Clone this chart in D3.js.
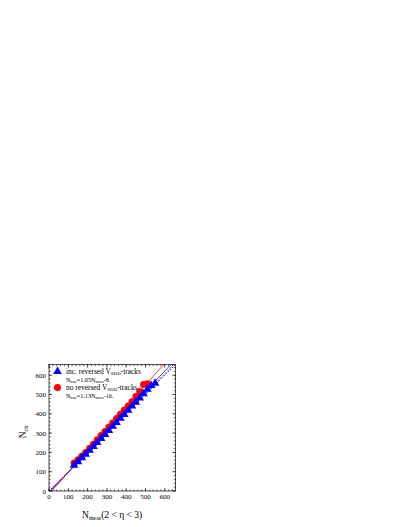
<!DOCTYPE html>
<html><head><meta charset="utf-8">
<script src="https://cdn.jsdelivr.net/npm/d3@7"></script>
<style>body{margin:0;background:#fff}svg{display:block}text{font-family:"Liberation Serif","DejaVu Serif",serif}</style>
</head><body><svg id="c" width="407" height="527"></svg>
<script>
const xTicks = [0,100,200,300,400,500,600];
const yTicks = [0,100,200,300,400,500,600];
const blueX = [130,150,170,190,210,230,250,270,290,310,330,350,370,390,410,430,450,470,490,510,530,550];
const blueY = [137,155,175,193,214,234,254,275,296,317,338,358,380,400,421,443,463,485,507,530,550,562];
const redX = [130,150,170,190,210,230,250,270,290,310,330,350,370,390,410,430,450,470,490,510];
const redY = [145,162,180,200,222,242,265,287,308,332,352,376,398,420,440,462,490,515,552,556];
const fitBlue = [1.05,-8];
const fitRed = [1.13,-16];
const fitBlueDash = [1.02,-4];
const diag = [1,0];

const svg = d3.select("#c");
const x = d3.scaleLinear().domain([0,655]).range([49,175.4]);
const y = d3.scaleLinear().domain([0,655]).range([491,364.6]);
const L=49,R=175.4,T=364.6,B=491;

svg.append("clipPath").attr("id","cp").append("rect").attr("x",L).attr("y",T).attr("width",R-L).attr("height",B-T);

const minor = d3.range(0,656,20);
const g = svg.append("g");
function ticks(vals,len){
  vals.forEach(v=>{
    g.append("line").attr("x1",x(v)).attr("x2",x(v)).attr("y1",B).attr("y2",B-len).attr("stroke","#000").attr("stroke-width",0.6);
    g.append("line").attr("x1",x(v)).attr("x2",x(v)).attr("y1",T).attr("y2",T+len).attr("stroke","#000").attr("stroke-width",0.6);
    g.append("line").attr("y1",y(v)).attr("y2",y(v)).attr("x1",L).attr("x2",L+len).attr("stroke","#000").attr("stroke-width",0.6);
    g.append("line").attr("y1",y(v)).attr("y2",y(v)).attr("x1",R).attr("x2",R-len).attr("stroke","#000").attr("stroke-width",0.6);
  });
}
ticks(minor,1.6);
ticks(xTicks,3.2);

const lg = svg.append("g").attr("clip-path","url(#cp)");
function fitLine(f,color,dash){
  const x0 = Math.max(0,-f[1]/f[0]);
  const x1 = 655;
  lg.append("line").attr("x1",x(x0)).attr("y1",y(f[0]*x0+f[1])).attr("x2",x(x1)).attr("y2",y(f[0]*x1+f[1]))
    .attr("stroke",color).attr("stroke-width",0.8).attr("stroke-dasharray",dash||null);
}
fitLine(diag,"#000","1.5,1.5");
fitLine(fitBlueDash,"#0000ff","2,1.5");
fitLine(fitBlue,"#0000ff");
fitLine(fitRed,"#ff0000");

const tri = d3.symbol().type(d3.symbolTriangle).size(32);
svg.append("g").selectAll("circle").data(redX).join("circle")
  .attr("cx",(d)=>x(d)).attr("cy",(d,i)=>y(redY[i])).attr("r",3.5).attr("fill","#ff0000");
svg.append("g").selectAll("path").data(blueX).join("path")
  .attr("d",tri).attr("transform",(d,i)=>`translate(${x(d)},${y(blueY[i])+0.6})`).attr("fill","#0000ff");

svg.append("rect").attr("x",L).attr("y",T).attr("width",R-L).attr("height",B-T).attr("fill","none").attr("stroke","#000").attr("stroke-width",0.7);

xTicks.forEach(v=>svg.append("text").attr("x",x(v)).attr("y",499).attr("text-anchor","middle").attr("font-size",7).text(v));
yTicks.forEach(v=>svg.append("text").attr("x",46).attr("y",y(v)+2.5).attr("text-anchor","end").attr("font-size",7).text(v));

const xt = svg.append("text").attr("x",82).attr("y",518).attr("font-size",9.5);
xt.append("tspan").text("N");
xt.append("tspan").attr("font-size",6).attr("dy",2).text("meas");
xt.append("tspan").attr("dy",-2).text("(2 < η < 3)");
const yt = svg.append("text").attr("transform","translate(26,432) rotate(-90)").attr("text-anchor","middle").attr("font-size",9.5);
yt.append("tspan").text("N");
yt.append("tspan").attr("font-size",6).attr("dy",2).text("ch");

svg.append("path").attr("d",d3.symbol().type(d3.symbolTriangle).size(32)).attr("transform","translate(57.5,371.5)").attr("fill","#0000ff");
svg.append("circle").attr("cx",57.5).attr("cy",387.5).attr("r",3.5).attr("fill","#ff0000");
function legText(yy,label){
  const t = svg.append("text").attr("x",66).attr("y",yy).attr("font-size",7.4);
  t.append("tspan").text(label);
  t.append("tspan").attr("font-size",5).attr("dy",1.5).text("SDD");
  t.append("tspan").attr("dy",-1.5).text("-tracks");
}
function fitText(yy,a,b){
  const t = svg.append("text").attr("x",66).attr("y",yy).attr("font-size",6.2);
  t.append("tspan").text("N");
  t.append("tspan").attr("font-size",4).attr("dy",1.2).text("true");
  t.append("tspan").attr("dy",-1.2).text("=" + a + "N");
  t.append("tspan").attr("font-size",4).attr("dy",1.2).text("meas");
  t.append("tspan").attr("dy",-1.2).text(b + ".");
}
legText(373.5,"inc. reversed V");
fitText(381.5,fitBlue[0].toFixed(2),fitBlue[1]);
legText(389.5,"no reversed V");
fitText(397.5,fitRed[0].toFixed(2),fitRed[1]);
</script></body></html>
